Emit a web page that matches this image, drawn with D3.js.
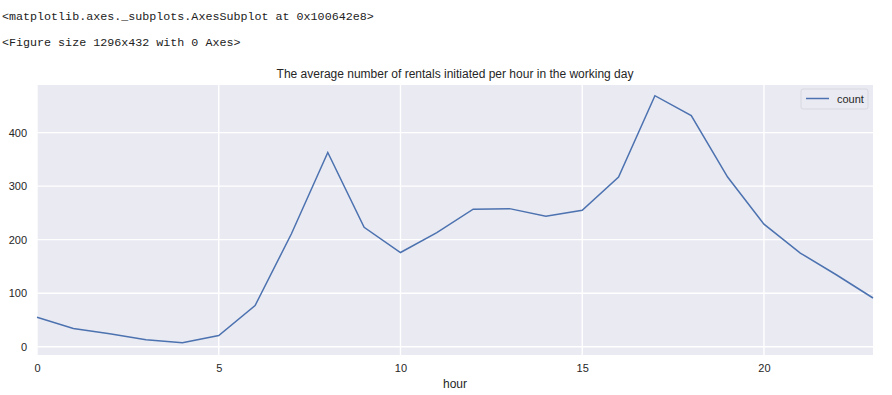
<!DOCTYPE html>
<html>
<head>
<meta charset="utf-8">
<script src="https://d3js.org/d3.v7.min.js"></script>
<style>
body { margin: 0; background: #fff; }
.out { font-family: "Liberation Mono", "DejaVu Sans Mono", monospace; font-size: 11.7px; fill: #222; }
.tick text { font-family: "Liberation Sans", Arial, sans-serif; font-size: 11px; fill: #262626; }
</style>
</head>
<body>
<svg width="892" height="395"></svg>
<script>
// average rentals per hour on working days
const hours = d3.range(0, 24);
const counts = [55, 34, 24, 13, 7.5, 21, 77, 211, 363, 223, 176, 213, 257, 258, 244, 255, 317, 469, 432, 317, 229, 175, 134, 91];
const xTicks = [0, 5, 10, 15, 20];
const yTicks = [0, 100, 200, 300, 400];

const svg = d3.select('svg');

svg.append('text').attr('class', 'out').attr('x', 2).attr('y', 20)
  .text('<matplotlib.axes._subplots.AxesSubplot at 0x100642e8>');
svg.append('text').attr('class', 'out').attr('x', 2).attr('y', 46)
  .text('<Figure size 1296x432 with 0 Axes>');

const pLeft = 37, pRight = 873, pTop = 85, pBottom = 355;

const x = d3.scaleLinear().domain([0, 23]).range([pLeft, pRight]);
const y = d3.scaleLinear().domain([-15.5, 489]).range([pBottom, pTop]);

svg.append('rect')
  .attr('x', pLeft).attr('y', pTop)
  .attr('width', pRight - pLeft).attr('height', pBottom - pTop)
  .attr('fill', '#EAEAF2');

// grid
svg.append('g').selectAll('line').data(yTicks).enter().append('line')
  .attr('x1', pLeft).attr('x2', pRight)
  .attr('y1', d => y(d)).attr('y2', d => y(d))
  .attr('stroke', '#fff').attr('stroke-width', 1.4);
svg.append('g').selectAll('line').data(xTicks).enter().append('line')
  .attr('y1', pTop).attr('y2', pBottom)
  .attr('x1', d => x(d)).attr('x2', d => x(d))
  .attr('stroke', '#fff').attr('stroke-width', 1.4);

// axes (labels only)
svg.append('g')
  .attr('transform', 'translate(0,' + pBottom + ')')
  .call(d3.axisBottom(x).tickValues(xTicks).tickSize(0).tickPadding(9))
  .call(g => g.select('.domain').remove());
svg.append('g')
  .attr('transform', 'translate(' + pLeft + ',0)')
  .call(d3.axisLeft(y).tickValues(yTicks).tickSize(0).tickPadding(10))
  .call(g => g.select('.domain').remove());

svg.append('path')
  .datum(hours)
  .attr('fill', 'none')
  .attr('stroke', '#4C72B0')
  .attr('stroke-width', 1.5)
  .attr('d', d3.line().x(d => x(d)).y(d => y(counts[d])));

svg.append('text')
  .attr('x', (pLeft + pRight) / 2).attr('y', 78)
  .attr('text-anchor', 'middle')
  .style('font-family', '"Liberation Sans", Arial, sans-serif')
  .style('font-size', '12px').style('fill', '#262626')
  .text('The average number of rentals initiated per hour in the working day');

svg.append('text')
  .attr('x', (pLeft + pRight) / 2).attr('y', 388)
  .attr('text-anchor', 'middle')
  .style('font-family', '"Liberation Sans", Arial, sans-serif')
  .style('font-size', '12px').style('fill', '#262626')
  .text('hour');

// legend
const lg = svg.append('g');
lg.append('rect')
  .attr('x', 801).attr('y', 89).attr('width', 67).attr('height', 20)
  .attr('rx', 2)
  .attr('fill', '#EAEAF2').attr('stroke', '#d8d8e0').attr('stroke-width', 1);
lg.append('line')
  .attr('x1', 806).attr('x2', 829).attr('y1', 98.5).attr('y2', 98.5)
  .attr('stroke', '#4C72B0').attr('stroke-width', 1.5);
lg.append('text')
  .attr('x', 837).attr('y', 102.5)
  .style('font-family', '"Liberation Sans", Arial, sans-serif')
  .style('font-size', '11px').style('fill', '#262626')
  .text('count');
</script>
</body>
</html>
